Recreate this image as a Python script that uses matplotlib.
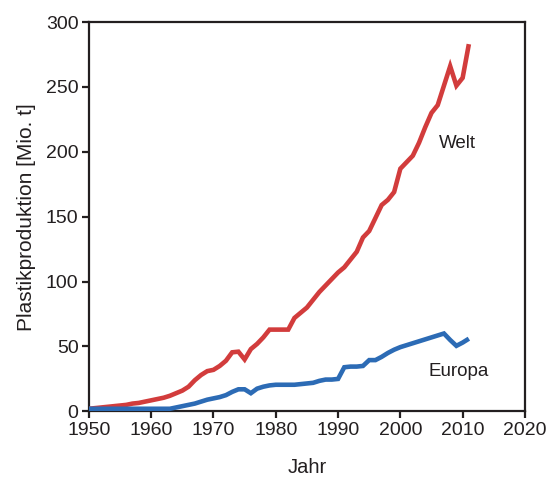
import matplotlib
matplotlib.use("Agg")
import matplotlib.pyplot as plt

plt.rcParams['font.family'] = ['Liberation Sans', 'DejaVu Sans']

years = list(range(1950, 2012))
welt = [2, 2.5, 3, 3.5, 4, 4.5, 5, 6, 6.5, 7.5,
        8.5, 9.5, 10.5, 12, 14, 16, 19, 24, 28, 31,
        32, 35, 39, 45.5, 46, 40, 48, 52, 57, 63,
        63, 63, 63, 72, 76, 80, 86, 92, 97, 102,
        107, 111, 117, 123, 134, 139, 149, 159, 163, 169,
        187, 192, 197, 207, 219, 230, 236, 251, 266, 251,
        257, 283]
europa = [2, 2, 2, 2, 2, 2, 2, 2, 2, 2,
          2, 2, 2, 2, 3, 4, 5, 6, 7.5, 9,
          10, 11, 12.5, 15, 17, 17, 14, 17.5, 19, 20,
          20.5, 20.5, 20.5, 20.5, 21, 21.5, 22, 23.5, 24.5, 24.5,
          25, 34, 34.5, 34.5, 35, 39.5, 39.5, 42, 45, 47.5,
          49.5, 51, 52.5, 54, 55.5, 57, 58.5, 60, 55, 50.5,
          53, 56]

x_ticks = [1950, 1960, 1970, 1980, 1990, 2000, 2010, 2020]
y_ticks = [0, 50, 100, 150, 200, 250, 300]

ink = '#231f20'
fig = plt.figure(figsize=(5.54, 4.8), dpi=100)
ax = fig.add_axes([0.1605, 0.143, 0.787, 0.811])

ax.plot(years, welt, color='#d23c3c', lw=3.3, solid_joinstyle='miter', solid_capstyle='butt', zorder=3)
ax.plot(years, europa, color='#2c6bb5', lw=3.3, solid_joinstyle='miter', solid_capstyle='butt', zorder=3)

ax.set_xlim(1950, 2020)
ax.set_ylim(0, 300)
ax.set_xticks(x_ticks)
ax.set_yticks(y_ticks)
for s in ax.spines.values():
    s.set_linewidth(1.6)
    s.set_color(ink)
ax.tick_params(direction='out', length=5, width=1.6, color=ink,
               labelsize=14, labelcolor=ink, pad=2.5)

ax.set_xlabel('Jahr', fontsize=14.5, color=ink, labelpad=14)
ax.set_ylabel('Plastikproduktion [Mio. t]', fontsize=15, color=ink, labelpad=7)

ax.text(2009.2, 206.5, 'Welt', fontsize=13.5, color=ink, ha='center', va='center')
ax.text(2009.4, 30.5, 'Europa', fontsize=13.5, color=ink, ha='center', va='center')

fig.savefig('out.png', dpi=100)
